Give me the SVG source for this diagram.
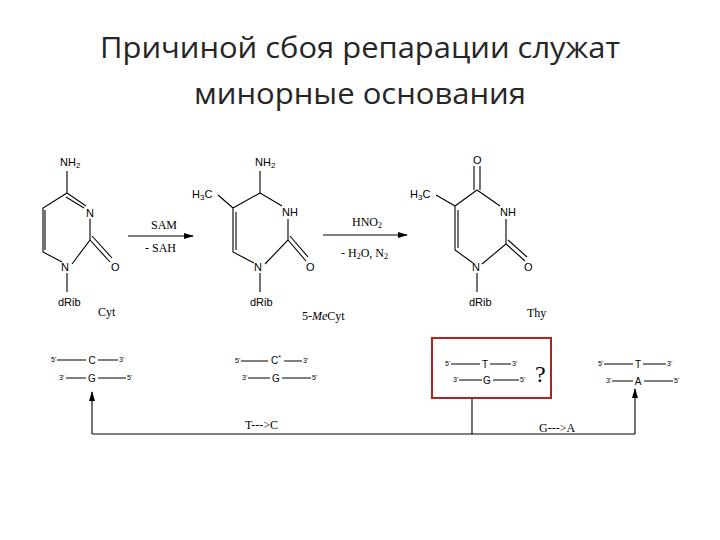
<svg xmlns="http://www.w3.org/2000/svg" width="720" height="540" viewBox="0 0 720 540">
<style>
.t{font-family:"Liberation Sans",Arial,sans-serif;fill:#000}
.s{font-family:"Liberation Serif","Times New Roman",serif;fill:#000}
.b{stroke:#000;stroke-width:1.1;fill:none}
.a{font-size:11px}
.p{font-size:10px}
.sp{font-size:12px}
.q{font-size:7px}
</style>
<defs><marker id="ar" markerWidth="10" markerHeight="8" refX="9" refY="4" orient="auto" markerUnits="userSpaceOnUse"><path d="M0,1 L10,4 L0,7 Z" fill="#000"/></marker></defs>
<rect width="720" height="540" fill="#fff"/>
<g id="title" font-family="'Open Sans','Liberation Sans',sans-serif" font-size="30" text-anchor="middle" fill="#262626">
<text x="360" y="58" textLength="520" lengthAdjust="spacingAndGlyphs">Причиной сбоя репарации служат</text>
<text x="360" y="104" textLength="332" lengthAdjust="spacingAndGlyphs">минорные основания</text></g>
<g id="cyt">
<path class="b" d="M67,171 V193 L86,206 M67,193 L43,208 V252 L62,262 M45,210 V250 M66,197 L84,208 M90,219 V240 L72,264 M90,240 L110,262 M92,236 L112,258 M67,273 V292"/>
<text class="t a" x="60" y="166">NH<tspan font-size="8" dy="2">2</tspan></text>
<text class="t a" x="86" y="217">N</text><text class="t a" x="61" y="271">N</text><text class="t a" x="111" y="271">O</text>
<text class="t a" x="58" y="306">dRib</text><text class="s sp" x="98" y="316">Cyt</text></g>
<g id="mecyt">
<path class="b" d="M260,171 V193 L282,206 M260,193 L233,208 M233,208 L218,195 M233,208 V252 L254,263 M236,212 V250 M288,219 V240 L265,264 M288,240 L306,261 M290,236 L308,257 M260,273 V292"/>
<text class="t a" x="255" y="166">NH<tspan font-size="8" dy="2">2</tspan></text>
<text class="t a" x="192" y="198">H<tspan font-size="8" dy="2">3</tspan><tspan dy="-2">C</tspan></text>
<text class="t a" x="282" y="216">NH</text><text class="t a" x="254" y="271">N</text><text class="t a" x="306" y="271">O</text>
<text class="t a" x="250" y="306">dRib</text><text class="s sp" x="302" y="320">5-<tspan font-style="italic">Me</tspan>Cyt</text></g>
<g id="thy">
<path class="b" d="M474,166 V190 M480,166 V190 M477,190 L500,206 M477,190 L455,206 M455,206 L436,195 M455,206 V250 L473,263 M458,210 V248 M506,219 V244 L482,264 M506,244 L525,261 M508,240 L527,257 M477,273 V292"/>
<text class="t a" x="473" y="164">O</text>
<text class="t a" x="410" y="198">H<tspan font-size="8" dy="2">3</tspan><tspan dy="-2">C</tspan></text>
<text class="t a" x="500" y="216">NH</text><text class="t a" x="472" y="271">N</text><text class="t a" x="524" y="271">O</text>
<text class="t a" x="469" y="306">dRib</text><text class="s sp" x="527" y="317">Thy</text></g>
<g id="connectors">
<path class="b" d="M128,236 H193" marker-end="url(#ar)"/>
<path class="b" d="M323,235 H407" marker-end="url(#ar)"/>
<path class="b" d="M92,434 H635 M472,398 V434"/>
<path class="b" d="M92,434 V392" marker-end="url(#ar)"/>
<path class="b" d="M635,434 V389" marker-end="url(#ar)"/>
</g>
<g id="labels" class="s sp">
<text x="151" y="229">SAM</text><text x="145" y="252">- SAH</text>
<text x="352" y="226">HNO<tspan font-size="8" dy="2">2</tspan></text>
<text x="341" y="257">- H<tspan font-size="8" dy="2">2</tspan><tspan dy="-2">O, N</tspan><tspan font-size="8" dy="2">2</tspan></text>
<text x="245" y="429">T---&gt;C</text>
<text x="539" y="432">G---&gt;A</text></g>
<g id="pair1">
<path class="b" d="M57,360 H86 M98,360 H118 M66,378 H86 M98,378 H126"/>
<text class="t q" x="51" y="362">5'</text><text class="t q" x="119" y="362">3'</text>
<text class="t q" x="59" y="380">3'</text><text class="t q" x="127" y="380">5'</text>
<text class="t p" x="92" y="364" text-anchor="middle">C</text><text class="t p" x="92" y="382" text-anchor="middle">G</text></g>
<g id="pair2">
<path class="b" d="M241,361 H268 M284,361 H302 M248,378 H270 M282,378 H311"/>
<text class="t q" x="235" y="363">5'</text><text class="t q" x="303" y="363">3'</text>
<text class="t q" x="242" y="380">3'</text><text class="t q" x="312" y="380">5'</text>
<text class="t p" x="276" y="364" text-anchor="middle">C<tspan font-size="7" dy="-4">*</tspan></text><text class="t p" x="276" y="382" text-anchor="middle">G</text></g>
<g id="pair3">
<rect x="432" y="338" width="119" height="60" fill="none" stroke="#b22222" stroke-width="2"/>
<path class="b" d="M451,364 H480 M490,364 H511 M459,380 H482 M493,380 H519"/>
<text class="t q" x="445" y="366">5'</text><text class="t q" x="512" y="366">3'</text>
<text class="t q" x="453" y="382">3'</text><text class="t q" x="520" y="382">5'</text>
<text class="t p" x="485" y="368" text-anchor="middle">T</text><text class="t p" x="487" y="384" text-anchor="middle">G</text>
<text class="s" font-size="24" x="535" y="382">?</text></g>
<g id="pair4">
<path class="b" d="M604,364 H633 M643,364 H666 M612,381 H633 M644,381 H673"/>
<text class="t q" x="598" y="366">5'</text><text class="t q" x="667" y="366">3'</text>
<text class="t q" x="606" y="383">3'</text><text class="t q" x="674" y="383">5'</text>
<text class="t p" x="638" y="368" text-anchor="middle">T</text><text class="t p" x="638" y="385" text-anchor="middle">A</text></g>
</svg>
